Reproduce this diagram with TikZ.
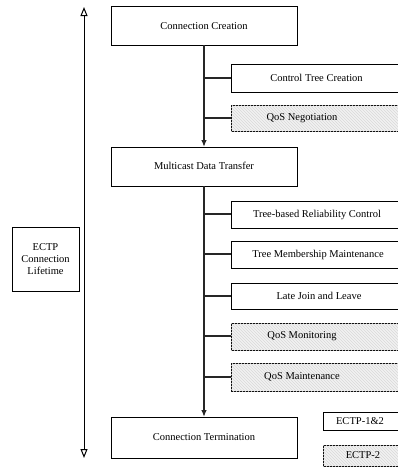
\documentclass[tikz,border=0pt]{standalone}
\usepackage{fontspec}
\setmainfont{Liberation Serif}
\usetikzlibrary{arrows.meta,patterns}
\begin{document}
\begin{tikzpicture}[x=1pt,y=-1pt,
  box/.style={draw=black,line width=0.8pt,fill=white},
  hatch/.style={draw=black,line width=0.8pt,fill=gray!10,postaction={pattern=north west lines,pattern color=gray!30}},
  lbl/.style={font=\fontsize{10.5}{12}\selectfont,inner sep=0pt},
  conn/.style={line width=1.3pt,draw=black!85},
  arr/.style={conn,-{Latex[length=7pt,width=5.5pt]}},
  life/.style={line width=1pt,{Triangle[open,length=9pt,width=7pt,line width=1pt]}-{Triangle[open,length=9pt,width=7pt,line width=1pt]}}]
\useasboundingbox (0,0) rectangle (398,467);
% main phase boxes
\draw[box] (111,6) rectangle (297,45);
\node[lbl] (cc) at (204,26) {Connection Creation};
\coordinate (ccs) at (204,45);
\draw[box] (111,147) rectangle (297,186);
\node[lbl] (mdt) at (204,166) {Multicast Data Transfer};
\coordinate (mdtn) at (204,147);
\coordinate (mdts) at (204,186);
\draw[box] (111,417) rectangle (297,458);
\node[lbl] (ct) at (204,437) {Connection Termination};
\coordinate (ctn) at (204,417);
% lifetime
\draw[box] (12,227) rectangle (79,291);
\node[lbl,align=center] (life) at (45.5,259) {ECTP\\Connection\\Lifetime};
\coordinate (ltop) at (84,7);
\coordinate (lbot) at (84,458);
\draw[life] (ltop) -- (lbot);
% sub boxes
\draw[box] (231,64) rectangle (402,92);
\coordinate (ctcw) at (231,78);
\node[lbl] (ctc) at (316.5,78) {Control Tree Creation};
\draw[hatch] (231,105) rectangle (402,131);
\coordinate (qnw) at (231,118);
\node[lbl] (qn) at (302,118) {QoS Negotiation};
\draw[box] (231,201) rectangle (402,228);
\coordinate (trcw) at (231,214);
\node[lbl] (trc) at (317,214.5) {Tree-based Reliability Control};
\draw[box] (231,241) rectangle (402,268);
\coordinate (tmmw) at (231,254);
\node[lbl] (tmm) at (318,254.5) {Tree Membership Maintenance};
\draw[box] (231,283) rectangle (402,309);
\coordinate (ljlw) at (231,296);
\node[lbl] (ljl) at (319,296) {Late Join and Leave};
\draw[hatch] (231,323) rectangle (402,350);
\coordinate (qmow) at (231,336);
\node[lbl] (qmo) at (302,336.5) {QoS Monitoring};
\draw[hatch] (231,363) rectangle (402,391);
\coordinate (qmaw) at (231,377);
\node[lbl] (qma) at (302,377) {QoS Maintenance};
% legend
\draw[box] (323,412) rectangle (402,430);
\node[lbl] (l1) at (360,421) {ECTP-1\&2};
\draw[hatch] (323,445) rectangle (402,466);
\node[lbl] (l2) at (363,455.5) {ECTP-2};
% connectors
\draw[arr] (ccs) -- (mdtn);
\draw[arr] (mdts) -- (ctn);
\foreach \w in {ctcw,qnw} \draw[conn] (\w) -- (\w -| ccs);
\foreach \w in {trcw,tmmw,ljlw,qmow,qmaw} \draw[conn] (\w) -- (\w -| mdts);
\end{tikzpicture}
\end{document}
